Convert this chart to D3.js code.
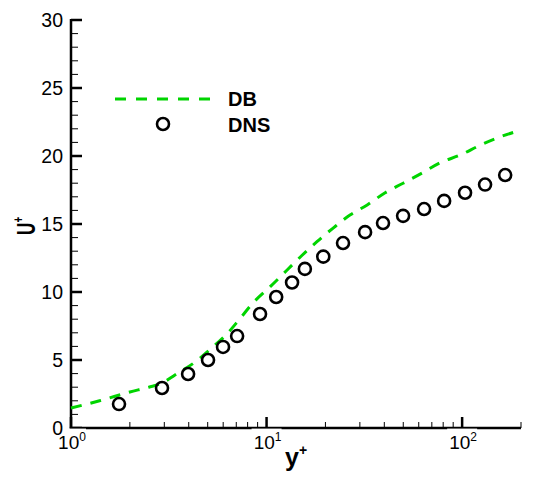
<!DOCTYPE html>
<html>
<head>
<meta charset="utf-8">
<script src="https://cdn.jsdelivr.net/npm/d3@7"></script>
<style>
    body { margin: 0; background: #fff; }
    svg { display: block; font-family: "Liberation Sans", Arial, sans-serif; }
</style>
</head>
<body>
<div id="chart"></div>
<script>
// DB model curve (y+, U+)
var db_yplus = [1, 1.4, 2.0, 2.5, 2.92, 3.4, 4.31, 5.26, 6.35, 7.32, 8.53, 10.4, 12.7, 15.2, 18.1,
                21.9, 26.7, 32.7, 40.4, 49.9, 62.4, 77.2, 97.7, 124, 156, 200];
var db_uplus = [1.47, 2.0, 2.65, 3.0, 3.3, 3.9, 4.85, 5.9, 7.0, 8.05, 9.2, 10.37, 11.6, 12.7, 13.7,
                14.7, 15.66, 16.4, 17.3, 18.0, 18.75, 19.5, 20.07, 20.8, 21.4, 21.9];

// DNS samples
var dns_yplus = [1.76, 2.92, 3.97, 5.02, 5.99, 7.07, 9.26, 11.2, 13.5, 15.7, 19.5, 24.6, 31.9,
                 39.4, 49.9, 63.9, 80.9, 103.5, 131, 166];
var dns_uplus = [1.76, 2.94, 3.97, 5.0, 5.96, 6.76, 8.38, 9.63, 10.7, 11.7, 12.6, 13.6, 14.4,
                 15.07, 15.6, 16.1, 16.7, 17.3, 17.9, 18.6];

var y_ticks = [0, 5, 10, 15, 20, 25, 30];
var x_major = [1, 10, 100];
var x_labels = ['0', '1', '2'];
var legend_names = ['DB', 'DNS'];

var green = '#00d400';

let width = 550, height = 486;
let svg = d3.select('#chart').append('svg')
    .attr('width', width)
    .attr('height', height);

let x = d3.scaleLog().domain([1, 200]).range([71, 521]);
let y = d3.scaleLinear().domain([0, 30]).range([428, 20]);

// minor ticks
let x_minor = [];
[1, 10, 100].forEach(function(dec) {
    for (let k = 2; k <= 9; ++k) {
        if (dec * k <= 200) x_minor.push(dec * k);
    }
});
let y_minor = d3.range(0, 31).filter(function(v) { return v % 5 !== 0; });

let ticks = svg.append('g').attr('stroke', '#000');

ticks.selectAll('.xminor')
    .data(x_minor)
    .enter().append('line')
    .attr('x1', function(d) { return x(d); })
    .attr('x2', function(d) { return x(d); })
    .attr('y1', y(0))
    .attr('y2', y(0) - 6)
    .attr('stroke-width', 1);

ticks.selectAll('.xmajor')
    .data(x_major)
    .enter().append('line')
    .attr('x1', function(d) { return x(d); })
    .attr('x2', function(d) { return x(d); })
    .attr('y1', y(0))
    .attr('y2', y(0) - 11)
    .attr('stroke-width', 2.5);

ticks.selectAll('.yminor')
    .data(y_minor)
    .enter().append('line')
    .attr('x1', x(1))
    .attr('x2', x(1) + 7)
    .attr('y1', function(d) { return y(d); })
    .attr('y2', function(d) { return y(d); })
    .attr('stroke-width', 1);

ticks.selectAll('.ymajor')
    .data(y_ticks)
    .enter().append('line')
    .attr('x1', x(1))
    .attr('x2', x(1) + 11)
    .attr('y1', function(d) { return y(d); })
    .attr('y2', function(d) { return y(d); })
    .attr('stroke-width', 2.5);

// axis lines
svg.append('line')
    .attr('x1', x(1)).attr('x2', x(1))
    .attr('y1', y(30) - 1).attr('y2', y(0) + 1.5)
    .attr('stroke', '#000').attr('stroke-width', 2.5);
svg.append('line')
    .attr('x1', x(1) - 1.2).attr('x2', x(200))
    .attr('y1', y(0)).attr('y2', y(0))
    .attr('stroke', '#000').attr('stroke-width', 2.5);

// x tick labels (10^n) with white box like the original
let xl = svg.append('g').selectAll('g')
    .data(x_major)
    .enter().append('g');

xl.append('rect')
    .attr('x', function(d) { return x(d) - 15; })
    .attr('y', y(0) + 0.6)
    .attr('width', 30)
    .attr('height', 20)
    .attr('fill', '#fff');

let xt = xl.append('text')
    .attr('x', function(d) { return x(d) + 1; })
    .attr('y', y(0) + 21)
    .attr('text-anchor', 'middle')
    .attr('font-size', '19px');
xt.append('tspan').text('10');
xt.append('tspan')
    .attr('dy', -8)
    .attr('font-size', '12px')
    .text(function(d, i) { return x_labels[i]; });

// y tick labels
svg.append('g').selectAll('text')
    .data(y_ticks)
    .enter().append('text')
    .attr('x', x(1) - 8)
    .attr('y', function(d) { return y(d) + 7; })
    .attr('text-anchor', 'end')
    .attr('font-size', '19.5px')
    .text(function(d) { return d; });

// axis titles
let xtitle = svg.append('text')
    .attr('x', 285)
    .attr('y', 466)
    .attr('font-size', '25px')
    .attr('font-weight', 'bold');
xtitle.append('tspan').text('y');
xtitle.append('tspan')
    .attr('dy', -11)
    .attr('font-size', '14px')
    .text('+');

let ytitle = svg.append('text')
    .attr('transform', 'translate(35,235) rotate(-90) scale(0.66,1)')
    .attr('font-size', '26px')
    .attr('font-weight', 'bold');
ytitle.append('tspan').text('U');
ytitle.append('tspan')
    .attr('dy', -12)
    .attr('font-size', '15px')
    .text('+');

// DB dashed curve
let line = d3.line()
    .x(function(d) { return x(d[0]); })
    .y(function(d) { return y(d[1]); })
    .curve(d3.curveMonotoneX);

svg.append('path')
    .datum(d3.zip(db_yplus, db_uplus))
    .attr('d', line)
    .attr('fill', 'none')
    .attr('stroke', green)
    .attr('stroke-width', 3)
    .attr('stroke-dasharray', '11,9');

// DNS circles
svg.append('g').selectAll('circle')
    .data(d3.zip(dns_yplus, dns_uplus))
    .enter().append('circle')
    .attr('cx', function(d) { return x(d[0]); })
    .attr('cy', function(d) { return y(d[1]); })
    .attr('r', 6)
    .attr('fill', 'none')
    .attr('stroke', '#000')
    .attr('stroke-width', 2.6);

// legend
let legend = svg.append('g');
legend.append('line')
    .attr('x1', 115).attr('x2', 212)
    .attr('y1', 99).attr('y2', 99)
    .attr('stroke', green)
    .attr('stroke-width', 3)
    .attr('stroke-dasharray', '11,10');
legend.append('circle')
    .attr('cx', 163).attr('cy', 124)
    .attr('r', 6)
    .attr('fill', 'none')
    .attr('stroke', '#000')
    .attr('stroke-width', 2.6);
legend.selectAll('text')
    .data(legend_names)
    .enter().append('text')
    .attr('x', 228)
    .attr('y', function(d, i) { return 106 + i * 25.5; })
    .attr('font-size', '20px')
    .attr('font-weight', 'bold')
    .text(function(d) { return d; });
</script>
</body>
</html>
